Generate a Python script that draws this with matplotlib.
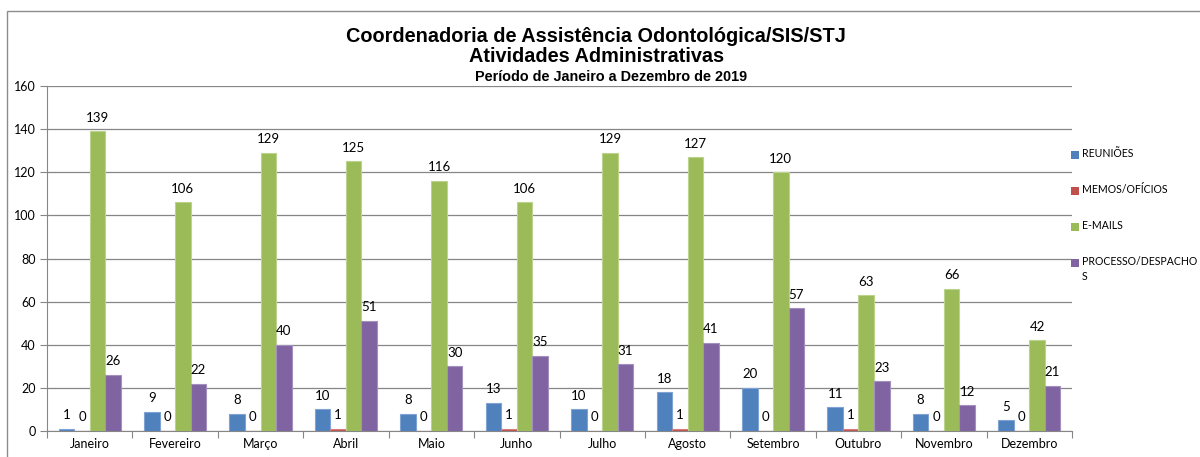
import numpy as np
import matplotlib.pyplot as plt
from matplotlib.patches import Rectangle

meses = ['Janeiro', 'Fevereiro', 'Março', 'Abril', 'Maio', 'Junho', 'Julho',
         'Agosto', 'Setembro', 'Outubro', 'Novembro', 'Dezembro']
reunioes = [1, 9, 8, 10, 8, 13, 10, 18, 20, 11, 8, 5]
memos = [0, 0, 0, 1, 0, 1, 0, 1, 0, 1, 0, 0]
emails = [139, 106, 129, 125, 116, 106, 129, 127, 120, 63, 66, 42]
processos = [26, 22, 40, 51, 30, 35, 31, 41, 57, 23, 12, 21]

series = [
    ('REUNIÕES', reunioes, '#4F81BD', '#7FA3D3'),
    ('MEMOS/OFÍCIOS', memos, '#C0504D', '#D4807E'),
    ('E-MAILS', emails, '#9BBB59', '#BBD38B'),
    ('PROCESSO/DESPACHO\nS', processos, '#8064A2', '#A390BD'),
]

lab_font = ['Lato', 'DejaVu Sans']

fig = plt.figure(figsize=(12, 4.57), dpi=100)
fig.patches.append(Rectangle((7 / 1200, -0.01), 1.0, 1 - 11 / 457 + 0.01,
                             transform=fig.transFigure, fill=False,
                             edgecolor='#8C8C8C', linewidth=1))

ax = fig.add_axes([47 / 1200, 26 / 457, 1025 / 1200, 345 / 457])

w = 1 / 5.5
x = np.arange(len(meses)) + 0.5
for i, (nome, vals, cor, borda) in enumerate(series):
    pos = x + (i - 1.5) * w
    ax.bar(pos, vals, width=w, color=cor, edgecolor=borda, linewidth=0.8, zorder=3)
    for p, v in zip(pos, vals):
        ax.text(p, v + 3.5, str(v), ha='center', va='bottom', fontsize=9.5,
                family=lab_font, color='black', zorder=4)

ax.set_xlim(0, 12)
ax.set_ylim(0, 160)
ax.set_yticks(range(0, 161, 20))
ax.set_xticks(range(0, 13))
ax.set_xticklabels([])
ax.set_xticks(x, minor=True)
ax.set_xticklabels(meses, minor=True, fontsize=9, family=lab_font)
ax.tick_params(axis='x', which='minor', length=0, pad=5)
ax.tick_params(axis='x', which='major', length=5, direction='out', color='#868686')
ax.tick_params(axis='y', length=5, direction='out', color='#868686', labelsize=9, pad=3)
for t in ax.get_yticklabels():
    t.set_family(lab_font)

ax.grid(axis='y', color='#868686', linewidth=0.9, zorder=0)
for s in ['top', 'right']:
    ax.spines[s].set_visible(False)
for s in ['left', 'bottom']:
    ax.spines[s].set_color('#868686')

fig.text(0.497, 1 - 36 / 457, 'Coordenadoria de Assistência Odontológica/SIS/STJ',
         ha='center', va='center', fontsize=14.3, fontweight='bold', family='Liberation Sans')
fig.text(0.497, 1 - 57 / 457, 'Atividades Administrativas',
         ha='center', va='center', fontsize=14.3, fontweight='bold', family='Liberation Sans')
fig.text(0.509, 1 - 77 / 457, 'Período de Janeiro a Dezembro de 2019',
         ha='center', va='center', fontsize=10.4, fontweight='bold', family='Liberation Sans')

# legenda manual
leg_y = [155, 191, 227, 263]
for (nome, vals, cor, borda), yy in zip(series, leg_y):
    fig.patches.append(Rectangle((1071 / 1200, 1 - (yy + 4) / 457), 8 / 1200, 8 / 457,
                                 transform=fig.transFigure, facecolor=cor, edgecolor='none'))
    fig.text(1082 / 1200, 1 - (yy - 7) / 457, nome, ha='left', va='top', fontsize=7.6,
             family=lab_font, linespacing=1.5)

fig.savefig('out.png', dpi=100)
